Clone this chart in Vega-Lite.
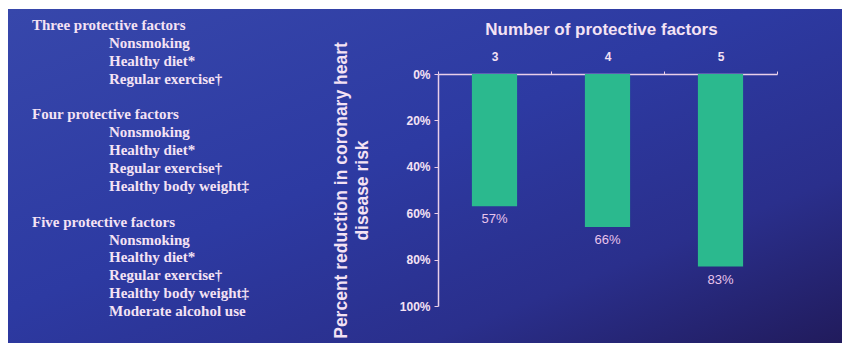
{
  "$schema": "https://vega.github.io/schema/vega-lite/v6.json",
  "width": 834,
  "height": 334,
  "autosize": {"type": "none"},
  "padding": {"left": 8, "top": 9, "right": 0, "bottom": 0},
  "background": "#ffffff",
  "config": {
    "view": {
      "stroke": null,
      "fill": {
        "gradient": "linear",
        "x1": 0, "y1": 0, "x2": 1, "y2": 1,
        "stops": [
          {"offset": 0, "color": "#3747ab"},
          {"offset": 0.45, "color": "#2d3aa2"},
          {"offset": 0.75, "color": "#2a2f8c"},
          {"offset": 1, "color": "#211b5c"}
        ]
      }
    },
    "font": "Liberation Sans"
  },
  "datasets": {
    "bars": [
      {"factors": "3", "reduction": 0.57},
      {"factors": "4", "reduction": 0.66},
      {"factors": "5", "reduction": 0.83}
    ],
    "list": [
      {"row": 0, "level": 0, "label": "Three protective factors"},
      {"row": 1, "level": 1, "label": "Nonsmoking"},
      {"row": 2, "level": 1, "label": "Healthy diet*"},
      {"row": 3, "level": 1, "label": "Regular exercise†"},
      {"row": 5, "level": 0, "label": "Four protective factors"},
      {"row": 6, "level": 1, "label": "Nonsmoking"},
      {"row": 7, "level": 1, "label": "Healthy diet*"},
      {"row": 8, "level": 1, "label": "Regular exercise†"},
      {"row": 9, "level": 1, "label": "Healthy body weight‡"},
      {"row": 11, "level": 0, "label": "Five protective factors"},
      {"row": 12, "level": 1, "label": "Nonsmoking"},
      {"row": 13, "level": 1, "label": "Healthy diet*"},
      {"row": 14, "level": 1, "label": "Regular exercise†"},
      {"row": 15, "level": 1, "label": "Healthy body weight‡"},
      {"row": 16, "level": 1, "label": "Moderate alcohol use"}
    ]
  },
  "resolve": {"scale": {"x": "independent", "y": "independent"}},
  "layer": [
    {
      "data": {"name": "bars"},
      "encoding": {
        "x": {
          "field": "factors",
          "type": "nominal",
          "sort": null,
          "scale": {"range": [430, 769], "paddingInner": 0, "paddingOuter": 0},
          "axis": {
            "orient": "top",
            "offset": -65,
            "title": "Number of protective factors",
            "titleFont": "Liberation Sans",
            "titleFontSize": 17,
            "titleFontWeight": "bold",
            "titleColor": "#f4e2f4",
            "titlePadding": 12,
            "titleX": 593,
            "labelAngle": 0,
            "labelFontSize": 12,
            "labelFontWeight": "bold",
            "labelColor": "#f4e2f4",
            "labelPadding": 8,
            "tickBand": "extent",
            "tickSize": 3,
            "tickColor": "#e9cfe9",
            "domainColor": "#e9cfe9",
            "domainWidth": 1.5,
            "grid": false
          }
        },
        "y": {
          "field": "reduction",
          "type": "quantitative",
          "scale": {"domain": [0, 1], "range": [65, 297], "nice": false},
          "axis": {
            "orient": "left",
            "offset": -430,
            "values": [0, 0.2, 0.4, 0.6, 0.8, 1],
            "format": ".0%",
            "labelFontSize": 12,
            "labelFontWeight": "bold",
            "labelColor": "#f4e2f4",
            "labelPadding": 4,
            "tickSize": 4,
            "tickColor": "#e9cfe9",
            "domainColor": "#e9cfe9",
            "domainWidth": 1.5,
            "grid": false,
            "title": ["Percent reduction in coronary heart", "disease risk"],
            "titleFont": "Liberation Sans",
            "titleFontSize": 17.5,
            "titleFontWeight": "bold",
            "titleColor": "#f4e2f4",
            "titleLineHeight": 21,
            "titlePadding": 28
          }
        }
      },
      "layer": [
        {
          "mark": {"type": "bar", "color": "#2bb98e", "width": {"band": 0.4}}
        },
        {
          "mark": {"type": "text", "baseline": "middle", "dy": 13, "fontSize": 13, "color": "#e9c4ec"},
          "encoding": {"text": {"field": "reduction", "type": "quantitative", "format": ".0%"}}
        }
      ]
    },
    {
      "data": {"name": "list"},
      "mark": {"type": "text", "align": "left", "baseline": "middle", "font": "Liberation Serif", "fontWeight": "bold", "fontSize": 15, "color": "#f4e2f4"},
      "encoding": {
        "x": {"field": "level", "type": "quantitative", "scale": {"domain": [0, 1], "range": [24, 101]}, "axis": null},
        "y": {"field": "row", "type": "quantitative", "scale": {"domain": [0, 16], "range": [16, 302]}, "axis": null},
        "text": {"field": "label"}
      }
    }
  ]
}
